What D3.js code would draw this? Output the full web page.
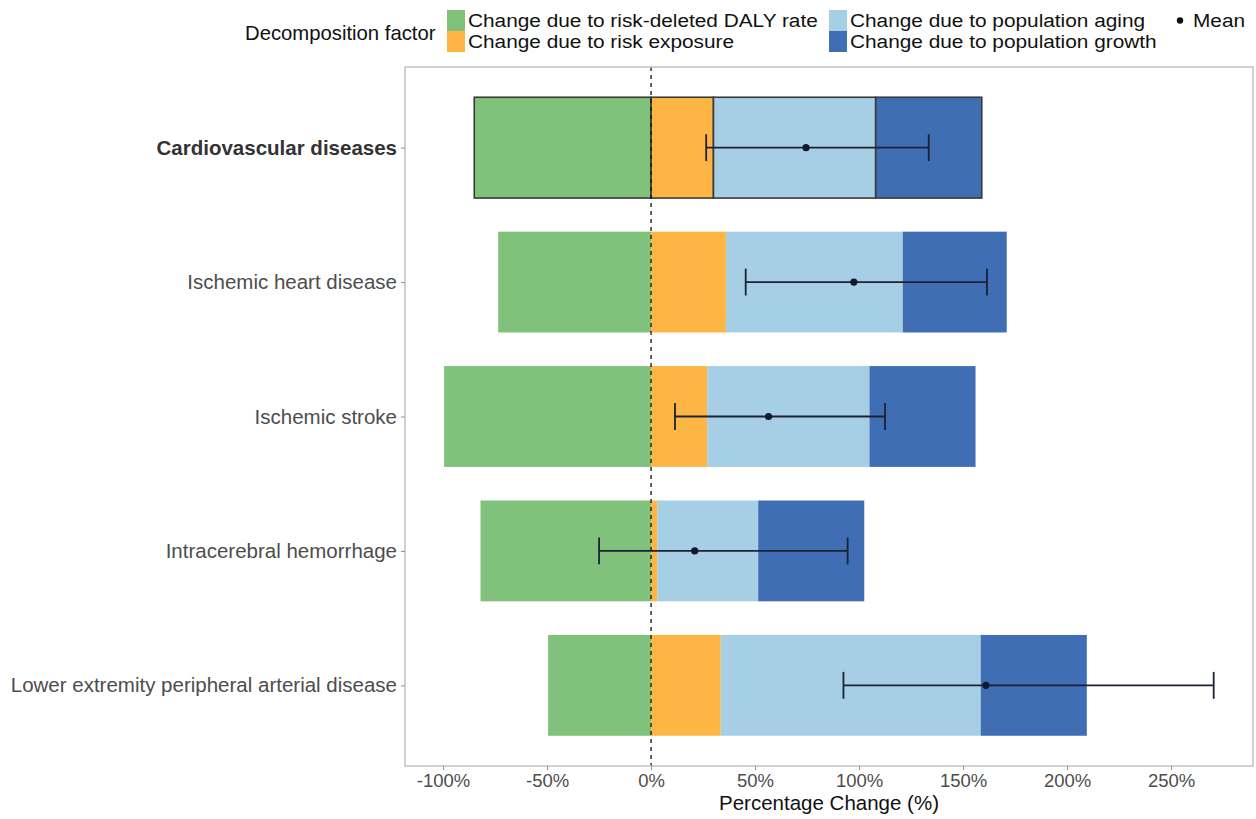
<!DOCTYPE html>
<html>
<head>
<meta charset="utf-8">
<script src="https://cdn.jsdelivr.net/npm/d3@7"></script>
<style>
  html, body { margin: 0; padding: 0; background: #fff; }
  svg { display: block; font-family: "Liberation Sans", Arial, Helvetica, sans-serif; }
</style>
</head>
<body>
<svg id="chart" width="1256" height="819"></svg>
<script>
// ---------------- data ----------------
const categories = [
  "Cardiovascular diseases",
  "Ischemic heart disease",
  "Ischemic stroke",
  "Intracerebral hemorrhage",
  "Lower extremity peripheral arterial disease"
];
const rateChange     = [-85,  -73.5, -99.5, -82,  -49.5];
const exposureChange = [ 30,   36,    27,    3,    33.5];
const agingChange    = [ 78,   85,    78,    48.5, 125 ];
const growthChange   = [ 51,   50,    51,    51,   51  ];
const meanValue      = [ 74.5, 97.5,  56.5,  21,   161 ];
const lowerValue     = [ 26.5, 45.5,  11.5, -25,   92.5];
const upperValue     = [133.5, 161.5, 112.5, 94.5, 270.5];
const xTicks = [-100, -50, 0, 50, 100, 150, 200, 250];

const factorKeys = ["rate", "exposure", "aging", "growth"];
const factorLabels = {
  rate: "Change due to risk-deleted DALY rate",
  exposure: "Change due to risk exposure",
  aging: "Change due to population aging",
  growth: "Change due to population growth"
};
const factorColors = {
  rate: "#80C17C",
  exposure: "#FDB644",
  aging: "#A6CEE4",
  growth: "#3F6EB4"
};

const rows = categories.map((c, i) => ({
  category: c,
  rate: rateChange[i],
  exposure: exposureChange[i],
  aging: agingChange[i],
  growth: growthChange[i],
  mean: meanValue[i],
  lower: lowerValue[i],
  upper: upperValue[i]
}));

// ---------------- layout ----------------
const svg = d3.select("#chart");
const panel = { left: 405, right: 1253, top: 67, bottom: 766 };

const x = d3.scaleLinear()
  .domain([-118.3, 289.4])
  .range([panel.left, panel.right]);

const y = d3.scalePoint()
  .domain(categories)
  .range([panel.top, panel.bottom])
  .padding(0.6);

const barH = y.step() * 0.75;

// stacking (diverging: negative below 0, positives stacked above)
const series = d3.stack()
  .keys(factorKeys)
  .offset(d3.stackOffsetDiverging)(rows);

// panel background
svg.append("rect")
  .attr("x", panel.left).attr("y", panel.top)
  .attr("width", panel.right - panel.left)
  .attr("height", panel.bottom - panel.top)
  .attr("fill", "#fff");

// bars
const gBars = svg.append("g");
series.forEach(s => {
  gBars.selectAll(null)
    .data(s)
    .enter()
    .append("rect")
    .attr("x", d => x(Math.min(d[0], d[1])))
    .attr("width", d => Math.abs(x(d[1]) - x(d[0])))
    .attr("y", d => y(d.data.category) - barH / 2)
    .attr("height", barH)
    .attr("fill", factorColors[s.key])
    .attr("stroke", d => d.data.category === categories[0] ? "#3a3a3a" : "none")
    .attr("stroke-width", 1.6);
});

// dashed zero line
svg.append("line")
  .attr("x1", x(0)).attr("x2", x(0))
  .attr("y1", panel.top).attr("y2", panel.bottom)
  .attr("stroke", "#111")
  .attr("stroke-width", 1.3)
  .attr("stroke-dasharray", "4,4");

// error bars and means
const capH = y.step() * 0.2;
const gErr = svg.append("g");
rows.forEach(r => {
  const cy = y(r.category);
  gErr.append("line")
    .attr("x1", x(r.lower)).attr("x2", x(r.upper))
    .attr("y1", cy).attr("y2", cy)
    .attr("stroke", "#1b2233").attr("stroke-width", 1.8);
  [r.lower, r.upper].forEach(v => {
    gErr.append("line")
      .attr("x1", x(v)).attr("x2", x(v))
      .attr("y1", cy - capH / 2).attr("y2", cy + capH / 2)
      .attr("stroke", "#1b2233").attr("stroke-width", 1.8);
  });
  gErr.append("circle")
    .attr("cx", x(r.mean)).attr("cy", cy)
    .attr("r", 3.6)
    .attr("fill", "#111a2a");
});

// panel border
svg.append("rect")
  .attr("x", panel.left).attr("y", panel.top)
  .attr("width", panel.right - panel.left)
  .attr("height", panel.bottom - panel.top)
  .attr("fill", "none")
  .attr("stroke", "#b8b8b8")
  .attr("stroke-width", 1.3);

// x axis
const xAxis = d3.axisBottom(x)
  .tickValues(xTicks)
  .tickFormat(d => d + "%")
  .tickSize(4)
  .tickSizeOuter(0);
const gx = svg.append("g")
  .attr("transform", `translate(0,${panel.bottom})`)
  .call(xAxis);
gx.select(".domain").remove();
gx.selectAll(".tick line").attr("stroke", "#999").attr("stroke-width", 1.1);
gx.selectAll(".tick text")
  .attr("fill", "#4d4d4d")
  .attr("font-size", 18.5)
  .attr("y", 5)
  .attr("dy", "0.85em");

// y axis
const yAxis = d3.axisLeft(y).tickSize(4).tickSizeOuter(0);
const gy = svg.append("g")
  .attr("transform", `translate(${panel.left},0)`)
  .call(yAxis);
gy.select(".domain").remove();
gy.selectAll(".tick line").attr("stroke", "#999").attr("stroke-width", 1.1);
gy.selectAll(".tick text")
  .attr("fill", d => d === categories[0] ? "#333" : "#4d4d4d")
  .attr("font-weight", d => d === categories[0] ? "bold" : "normal")
  .attr("font-size", 20.5)
  .attr("x", -8);

// axis title
svg.append("text")
  .attr("x", (panel.left + panel.right) / 2)
  .attr("y", 810)
  .attr("text-anchor", "middle")
  .attr("font-size", 20.5)
  .attr("fill", "#111")
  .text("Percentage Change (%)");

// ---------------- legend ----------------
const legendFont = 17.8;
const stretch = 1.17;
const gL = svg.append("g");
gL.append("text")
  .attr("x", 245).attr("y", 40)
  .attr("font-size", 20.3)
  .attr("fill", "#111")
  .text("Decomposition factor");

const legendItems = [
  { key: "rate", col: 0, row: 0 },
  { key: "exposure", col: 0, row: 1 },
  { key: "aging", col: 1, row: 0 },
  { key: "growth", col: 1, row: 1 }
];
const colX = [447, 829];
const rowY = [10, 31];
legendItems.forEach(it => {
  gL.append("rect")
    .attr("x", colX[it.col]).attr("y", rowY[it.row])
    .attr("width", 18).attr("height", 21)
    .attr("fill", factorColors[it.key]);
  gL.append("text")
    .attr("transform", `translate(${colX[it.col] + 21},${rowY[it.row] + 16.5}) scale(${stretch},1)`)
    .attr("font-size", legendFont)
    .attr("fill", "#111")
    .text(factorLabels[it.key]);
});
gL.append("circle")
  .attr("cx", 1180).attr("cy", 20.5).attr("r", 3.2)
  .attr("fill", "#111");
gL.append("text")
  .attr("transform", `translate(1193,26.5) scale(${stretch},1)`)
  .attr("font-size", legendFont)
  .attr("fill", "#111")
  .text("Mean");
</script>
</body>
</html>
